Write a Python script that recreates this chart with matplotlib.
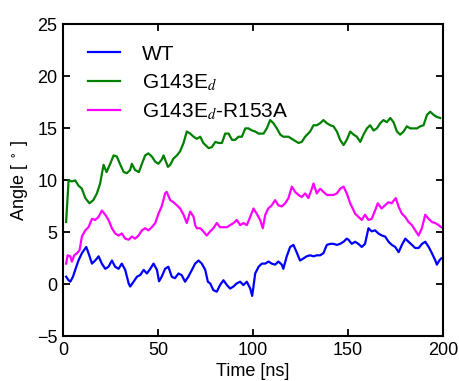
import matplotlib.pyplot as plt
import numpy as np

plt.rcParams['font.family'] = ['Liberation Sans', 'DejaVu Sans']
plt.rcParams['mathtext.fontset'] = 'stix'

# data (time in ns, angle in degrees)
wt_t = [1.7, 3, 3.9, 5.3, 6.5, 8.2, 10, 12.3, 13.5, 15.3, 17, 18.8, 20.5, 22.3, 24,
        25.8, 27.5, 29.3, 31, 32.8, 34.6, 35.4, 37.2, 39, 40.7, 42.5, 44.2, 46, 47.7,
        49.5, 50.6, 52, 53.8, 55.5, 57.3, 59, 60.8, 62.5, 64.3, 66, 67.9, 69.6, 71.4,
        73.1, 74.9, 76.3, 77.5, 79.2, 81, 82.7, 84.5, 86.3, 88, 89.8, 91.5, 93.3, 95,
        96.8, 98.6, 99.6, 100.3, 101.2, 103, 104.7, 106.5, 108.2, 109.9, 111.7, 113.4,
        115.2, 116, 117.8, 119.6, 121.3, 123, 124.8, 126.6, 128.3, 130.1, 131.9, 133.6,
        135.4, 137.1, 138.9, 140.7, 142.4, 144.2, 145.9, 147.7, 149.4, 150.3, 152,
        153.8, 155.5, 157.3, 159, 160.8, 162.5, 164.3, 166, 167.9, 169.6, 171.4, 173.1,
        174.9, 176.7, 178.4, 180.2, 181.9, 183.7, 185.4, 187.2, 189, 190.7, 192.5,
        194.2, 196, 196.8, 198.1, 199.1]
wt_a = [0.74, 0.4, 0.26, 0.74, 1.4, 2.3, 3.0, 3.6, 3.0, 2.0, 2.3, 2.7, 2.0, 1.5, 1.7,
        2.3, 1.7, 1.5, 2.0, 1.4, 0.1, -0.2, 0.26, 0.74, 0.9, 1.4, 1.05, 1.5, 2.0,
        1.4, 0.3, 0.74, 1.5, 1.7, 0.74, 0.6, 1.05, 0.9, 0.26, 0.74, 1.4, 2.0, 2.3,
        2.0, 1.4, 0.26, 0.1, -0.55, -0.7, -0.06, 0.4, -0.06, -0.4, -0.2, 0.1, 0.26, -0.06,
        0.26, -0.4, -1.1, -0.2, 1.05, 1.7, 2.0, 2.0, 2.2, 2.0, 1.9, 2.2,
        1.9, 1.5, 2.7, 3.6, 3.8, 3.1, 2.3, 2.5, 2.7, 2.8, 2.7, 2.8,
        2.8, 3.0, 3.8, 3.9, 3.9, 3.8, 3.9, 4.1, 4.4, 4.3, 3.9,
        4.1, 3.9, 3.6, 3.9, 5.4, 5.1, 5.2, 4.9, 4.7, 4.6, 4.1, 3.8,
        3.6, 3.1, 3.8, 4.4, 4.1, 3.8, 3.5, 3.5, 3.9, 4.1, 3.6,
        3.0, 2.3, 1.9, 2.3, 2.5]

g_t = [1.7, 3, 4.7, 6.5, 8.2, 10, 11.8, 14, 16, 17.9, 19.6, 21.4, 23, 24.9, 26.7,
       28.4, 30, 32, 33.7, 35.4, 36.3, 38, 40, 41.6, 43.3, 45, 46.8, 48.6, 50.3, 52,
       53, 53.8, 55.3, 56.5, 58.2, 60, 61.7, 63.5, 65.2, 67, 68.8, 70.5, 72.3, 73.9,
       76.7, 78.4, 80.2, 81.9, 83.7, 85.4, 87.2, 89, 90.7, 92.4, 94.2, 96, 97.7, 99.5,
       101.2, 103, 105.6, 107.3, 109.1, 110.8, 112.6, 114.4, 116, 118.7, 121.3, 124,
       125.7, 127.5, 130.1, 131.9, 133.6, 135.4, 137.1, 138.9, 140.7, 142.4, 144.2,
       145.9, 147.7, 149.4, 151.2, 153, 154.7, 156.5, 158.2, 160, 161.7, 163.5, 165.2,
       167, 168.7, 170.5, 172.3, 174, 175.8, 177.5, 179.3, 181, 182.8, 184.6, 186.3,
       188.1, 189.8, 191.6, 193.3, 195.1, 196.8, 198.6]
g_a = [6.0, 10.0, 9.9, 10.0, 9.5, 9.2, 8.3, 7.8, 8.1, 8.75, 9.7, 11.5, 10.8, 11.6, 12.4,
       12.3, 11.6, 10.8, 10.7, 11.0, 11.6, 11.0, 10.8, 11.6, 12.4, 12.6, 12.3, 11.8, 11.6, 12.0,
       12.4, 12.0, 11.3, 11.5, 12.1, 12.4, 12.8, 13.6, 14.7, 14.5, 14.2, 14.0, 14.2, 13.6,
       13.1, 13.2, 13.7, 13.6, 13.6, 14.5, 14.5, 13.9, 13.9, 14.2, 14.2, 15.0, 15.0, 14.8,
       14.7, 14.5, 14.5, 15.0, 15.8, 15.5, 15.0, 14.4, 14.2, 14.2, 13.9, 13.6,
       13.7, 14.2, 14.7, 15.3, 15.3, 15.5, 15.8, 15.5, 15.3, 15.2, 14.7,
       13.9, 13.4, 13.9, 14.7, 14.4, 14.2, 13.7, 14.4, 15.0, 15.3, 14.8, 15.0,
       15.5, 15.8, 15.6, 16.0, 15.6, 14.7, 14.4, 14.7, 15.2, 15.0, 15.0, 15.0,
       15.2, 15.3, 16.3, 16.6, 16.3, 16.1, 16.0]

r_t = [1.7, 2.5, 3.9, 4.7, 6, 7.4, 8.8, 10, 11.8, 13.5, 15.3, 17, 18.8, 20.5, 22.3,
       24, 25.8, 27.5, 29.3, 31, 32.8, 34.6, 36.3, 38, 39.8, 41.6, 43.3, 45, 46.8,
       48.6, 50.3, 52, 53.8, 54.6, 56.5, 58.2, 60, 61.7, 63.5, 65.2, 67, 68.8, 69.6,
       70.5, 72.3, 73.9, 75.7, 77.5, 79.2, 81, 82.7, 84.5, 86.3, 88, 89.8, 91.5, 93.3,
       95, 96.8, 98.6, 100.3, 102, 103.8, 105.2, 106.5, 108.1, 109.9, 111.7, 113.4,
       115.2, 117, 118.7, 120.5, 122.2, 124, 125.7, 127.5, 129.2, 131, 131.9, 133.6,
       135.4, 137.1, 138.9, 140.7, 142.4, 144.2, 145.9, 147.7, 149.4, 151.2, 152,
       153.8, 155.5, 157.3, 159, 160.8, 162.5, 164.3, 165.7, 167.7, 169.5, 171.3,
       173, 175.2, 176.6, 178.4, 180.1, 181.9, 183.7, 185.4, 187.2, 188.9, 190.7,
       192.5, 194.2, 196, 197.7, 199.1]
r_a = [2.0, 2.8, 2.7, 2.2, 2.8, 3.0, 3.3, 4.6, 5.2, 5.5, 6.3, 6.2, 6.5, 7.1, 6.7,
       6.2, 5.4, 4.9, 4.7, 4.9, 4.4, 4.3, 4.6, 4.4, 4.7, 5.2, 5.4, 5.2, 5.5,
       5.9, 6.8, 7.5, 8.75, 8.9, 8.1, 7.9, 7.6, 7.3, 6.7, 5.9, 7.0, 6.5, 5.7,
       5.4, 5.4, 5.1, 4.7, 5.1, 5.4, 5.9, 5.5, 5.5, 5.5, 5.7, 5.9, 6.2, 5.7,
       5.9, 5.7, 6.5, 7.3, 6.8, 6.2, 5.4, 6.7, 7.3, 7.6, 8.1, 7.6,
       7.5, 7.8, 8.3, 9.4, 8.9, 8.6, 8.4, 8.75, 8.3, 9.2, 9.7, 8.75,
       9.2, 8.9, 8.6, 8.6, 8.6, 8.75, 9.2, 9.4, 8.75, 7.8, 7.5,
       6.8, 6.5, 6.2, 6.7, 6.2, 6.3, 7.1, 7.8, 7.3, 7.6, 7.9,
       7.8, 8.3, 7.5, 6.8, 6.5, 6.0, 5.7, 5.2, 4.7, 5.4, 6.7,
       6.3, 6.0, 5.9, 5.7, 5.5]

labels = ['WT', r'G143E$_d$', r'G143E$_d$-R153A']

fig = plt.figure(figsize=(4.59, 3.81), dpi=100)
ax = fig.add_axes([0.137, 0.117, 0.828, 0.819])

ax.plot(wt_t, wt_a, color='#0000ff', lw=1.6, label=labels[0])
ax.plot(g_t, g_a, color='#008000', lw=1.6, label=labels[1])
ax.plot(r_t, r_a, color='#ff00ff', lw=1.6, label=labels[2])

ax.set_xlim(0, 200)
ax.set_ylim(-5, 25)
ax.set_xticks(np.arange(0, 201, 50))
ax.set_yticks(np.arange(-5, 26, 5))
ax.tick_params(direction='in', length=5, width=1.3, labelsize=13,
               top=True, right=True, pad=4)
for s in ax.spines.values():
    s.set_linewidth(1.5)

ax.set_xlabel('Time [ns]', fontsize=13, labelpad=3)
ax.set_ylabel(r'Angle [ $^\circ$ ]', fontsize=13, labelpad=5)

ax.legend(loc='upper left', frameon=False, fontsize=15, handlelength=1.5,
          handletextpad=1.05, labelspacing=0.4, borderaxespad=0.5,
          bbox_to_anchor=(0.018, 0.995))

fig.savefig('out.png', dpi=100)
